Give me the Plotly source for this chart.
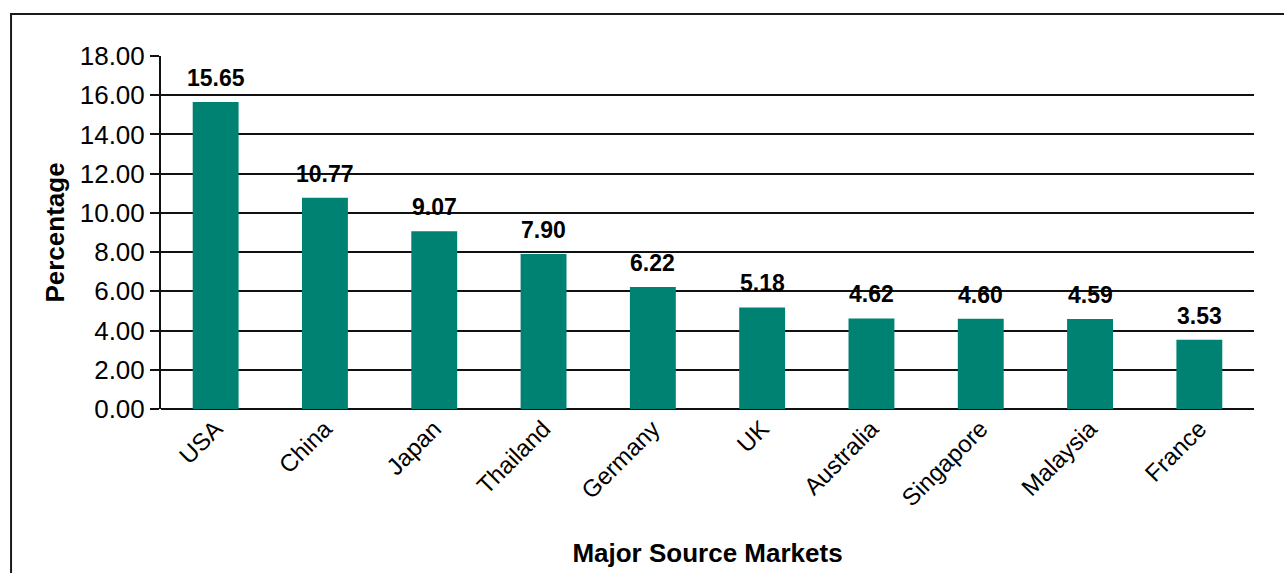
import plotly.graph_objects as go

# Share of arrivals by major source market (%)
markets = ["USA", "China", "Japan", "Thailand", "Germany", "UK",
           "Australia", "Singapore", "Malaysia", "France"]
shares = [15.65, 10.77, 9.07, 7.90, 6.22, 5.18, 4.62, 4.60, 4.59, 3.53]

y_ticks = [0, 2, 4, 6, 8, 10, 12, 14, 16, 18]

FONT = "Liberation Sans, Arial, Helvetica, sans-serif"
BAR_COLOR = "#008272"

fig = go.Figure()
fig.add_trace(go.Bar(
    x=markets,
    y=shares,
    marker=dict(color=BAR_COLOR, line=dict(width=0)),
    hoverinfo="x+y",
))

# value labels above each bar
for m, v in zip(markets, shares):
    fig.add_annotation(
        x=m, y=v, text=f"<b>{v:.2f}</b>", showarrow=False,
        yanchor="bottom", yshift=9,
        font=dict(family=FONT, size=23, color="#000000"),
    )

# outer frame of the chart
fig.add_shape(
    type="rect", xref="paper", yref="paper",
    x0=-0.1372, x1=1.2, y0=-0.6, y1=1.119,
    line=dict(color="#1a1a1a", width=2), fillcolor="rgba(0,0,0,0)",
    layer="below",
)

fig.update_layout(
    width=1284, height=573,
    margin=dict(l=161, r=30, t=56, b=164),
    paper_bgcolor="white", plot_bgcolor="white",
    font=dict(family=FONT, color="#000000"),
    bargap=0.58,
    showlegend=False,
    xaxis=dict(
        automargin=False,
        tickangle=-45,
        tickfont=dict(family=FONT, size=24),
        showgrid=False,
        showline=False,
        ticks="",
        title=dict(text="<b>Major Source Markets</b>",
                   font=dict(family=FONT, size=26), standoff=33),
    ),
    yaxis=dict(
        automargin=False,
        range=[0, 18],
        tickvals=y_ticks,
        tickformat=".2f",
        tickfont=dict(family=FONT, size=26),
        showgrid=True, gridcolor="#111111", gridwidth=2,
        zeroline=True, zerolinecolor="#111111", zerolinewidth=2,
        showline=True, linecolor="#111111", linewidth=2,
        ticks="outside", ticklen=9, tickwidth=2, tickcolor="#111111",
        title=dict(text="<b>Percentage</b>",
                   font=dict(family=FONT, size=26), standoff=8),
    ),
)

fig.write_html("out.html")
